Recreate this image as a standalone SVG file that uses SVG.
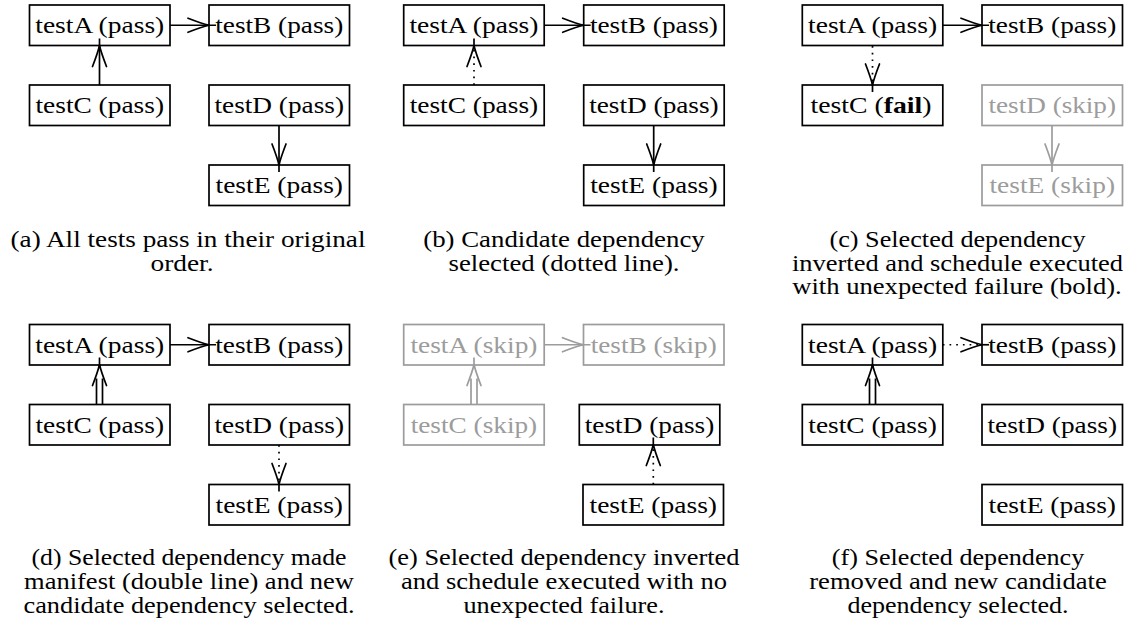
<svg xmlns="http://www.w3.org/2000/svg" width="1129" height="631" viewBox="0 0 1129 631">
<style>
.box{fill:#fff;stroke:#000;stroke-width:1.7}
.sk .box{stroke:#9c9c9c}
.e{fill:none;stroke:#000;stroke-width:1.7}
.eg{fill:none;stroke:#9c9c9c;stroke-width:1.7}
.dot{stroke-dasharray:1.7 5}
.ah{marker-end:url(#ah)}
.ahg{marker-end:url(#ahg)}
</style>
<defs>
<marker id="ah" viewBox="-24 -9 34 18" markerWidth="34" markerHeight="18" refX="7" refY="0" orient="auto" markerUnits="userSpaceOnUse">
<path d="M-21,-7 Q-7,-1.6 0,0 Q-7,1.6 -21,7" fill="none" stroke="#000" stroke-width="1.7" stroke-linecap="round"/>
</marker>
<marker id="ahg" viewBox="-24 -9 34 18" markerWidth="34" markerHeight="18" refX="7" refY="0" orient="auto" markerUnits="userSpaceOnUse">
<path d="M-21,-7 Q-7,-1.6 0,0 Q-7,1.6 -21,7" fill="none" stroke="#9c9c9c" stroke-width="1.7" stroke-linecap="round"/>
</marker>
</defs>

<!-- Panel (a) -->
<g id="a-testA"><rect class="box" x="29.5" y="5" width="140.5" height="40.5"/><text font-family="Liberation Serif" font-size="24" text-anchor="middle" x="99.75" y="33" textLength="129" lengthAdjust="spacingAndGlyphs">testA (pass)</text></g>
<g id="a-testB"><rect class="box" x="209" y="5" width="140.5" height="40.5"/><text font-family="Liberation Serif" font-size="24" text-anchor="middle" x="279.25" y="33" textLength="128" lengthAdjust="spacingAndGlyphs">testB (pass)</text></g>
<g id="a-testC"><rect class="box" x="29.5" y="85" width="140.5" height="40.5"/><text font-family="Liberation Serif" font-size="24" text-anchor="middle" x="99.75" y="113" textLength="128.5" lengthAdjust="spacingAndGlyphs">testC (pass)</text></g>
<g id="a-testD"><rect class="box" x="209" y="85" width="140.5" height="40.5"/><text font-family="Liberation Serif" font-size="24" text-anchor="middle" x="279.25" y="113" textLength="129.5" lengthAdjust="spacingAndGlyphs">testD (pass)</text></g>
<g id="a-testE"><rect class="box" x="209" y="165" width="140.5" height="40.5"/><text font-family="Liberation Serif" font-size="24" text-anchor="middle" x="279.25" y="193" textLength="127.5" lengthAdjust="spacingAndGlyphs">testE (pass)</text></g>

<!-- Panel (b) -->
<g id="b-testA"><rect class="box" x="403.7" y="5" width="140.5" height="40.5"/><text font-family="Liberation Serif" font-size="24" text-anchor="middle" x="473.95" y="33" textLength="129" lengthAdjust="spacingAndGlyphs">testA (pass)</text></g>
<g id="b-testB"><rect class="box" x="583.7" y="5" width="140.5" height="40.5"/><text font-family="Liberation Serif" font-size="24" text-anchor="middle" x="653.95" y="33" textLength="128" lengthAdjust="spacingAndGlyphs">testB (pass)</text></g>
<g id="b-testC"><rect class="box" x="403.7" y="85" width="140.5" height="40.5"/><text font-family="Liberation Serif" font-size="24" text-anchor="middle" x="473.95" y="113" textLength="128.5" lengthAdjust="spacingAndGlyphs">testC (pass)</text></g>
<g id="b-testD"><rect class="box" x="583.7" y="85" width="140.5" height="40.5"/><text font-family="Liberation Serif" font-size="24" text-anchor="middle" x="653.95" y="113" textLength="129.5" lengthAdjust="spacingAndGlyphs">testD (pass)</text></g>
<g id="b-testE"><rect class="box" x="583.7" y="165" width="140.5" height="40.5"/><text font-family="Liberation Serif" font-size="24" text-anchor="middle" x="653.95" y="193" textLength="127.5" lengthAdjust="spacingAndGlyphs">testE (pass)</text></g>

<!-- Panel (c) -->
<g id="c-testA"><rect class="box" x="802.3" y="5" width="140.5" height="40.5"/><text font-family="Liberation Serif" font-size="24" text-anchor="middle" x="872.55" y="33" textLength="129" lengthAdjust="spacingAndGlyphs">testA (pass)</text></g>
<g id="c-testB"><rect class="box" x="982" y="5" width="140.5" height="40.5"/><text font-family="Liberation Serif" font-size="24" text-anchor="middle" x="1052.25" y="33" textLength="128" lengthAdjust="spacingAndGlyphs">testB (pass)</text></g>
<g id="c-testC"><rect class="box" x="802.3" y="85" width="140.5" height="40.5"/><text font-family="Liberation Serif" font-size="24" text-anchor="middle" x="871" y="113" textLength="121" lengthAdjust="spacingAndGlyphs">testC (<tspan font-weight="bold">fail</tspan>)</text></g>
<g id="c-testD" class="sk"><rect class="box" x="982" y="85" width="140.5" height="40.5"/><text font-family="Liberation Serif" font-size="24" text-anchor="middle" fill="#9c9c9c" x="1052.25" y="113" textLength="127.5" lengthAdjust="spacingAndGlyphs">testD (skip)</text></g>
<g id="c-testE" class="sk"><rect class="box" x="982" y="165" width="140.5" height="40.5"/><text font-family="Liberation Serif" font-size="24" text-anchor="middle" fill="#9c9c9c" x="1052.25" y="193" textLength="125.5" lengthAdjust="spacingAndGlyphs">testE (skip)</text></g>

<!-- Panel (d) -->
<g id="d-testA"><rect class="box" x="29.5" y="324.5" width="140.5" height="40.5"/><text font-family="Liberation Serif" font-size="24" text-anchor="middle" x="99.75" y="352.5" textLength="129" lengthAdjust="spacingAndGlyphs">testA (pass)</text></g>
<g id="d-testB"><rect class="box" x="209" y="324.5" width="140.5" height="40.5"/><text font-family="Liberation Serif" font-size="24" text-anchor="middle" x="279.25" y="352.5" textLength="128" lengthAdjust="spacingAndGlyphs">testB (pass)</text></g>
<g id="d-testC"><rect class="box" x="29.5" y="404.5" width="140.5" height="40.5"/><text font-family="Liberation Serif" font-size="24" text-anchor="middle" x="99.75" y="432.5" textLength="128.5" lengthAdjust="spacingAndGlyphs">testC (pass)</text></g>
<g id="d-testD"><rect class="box" x="209" y="404.5" width="140.5" height="40.5"/><text font-family="Liberation Serif" font-size="24" text-anchor="middle" x="279.25" y="432.5" textLength="129.5" lengthAdjust="spacingAndGlyphs">testD (pass)</text></g>
<g id="d-testE"><rect class="box" x="209" y="484.5" width="140.5" height="40.5"/><text font-family="Liberation Serif" font-size="24" text-anchor="middle" x="279.25" y="512.5" textLength="127.5" lengthAdjust="spacingAndGlyphs">testE (pass)</text></g>

<!-- Panel (e) -->
<g id="e-testA" class="sk"><rect class="box" x="403.7" y="324.5" width="140.5" height="40.5"/><text font-family="Liberation Serif" font-size="24" text-anchor="middle" fill="#9c9c9c" x="473.95" y="352.5" textLength="127" lengthAdjust="spacingAndGlyphs">testA (skip)</text></g>
<g id="e-testB" class="sk"><rect class="box" x="583.5" y="324.5" width="140.5" height="40.5"/><text font-family="Liberation Serif" font-size="24" text-anchor="middle" fill="#9c9c9c" x="653.75" y="352.5" textLength="126" lengthAdjust="spacingAndGlyphs">testB (skip)</text></g>
<g id="e-testC" class="sk"><rect class="box" x="403.7" y="404.5" width="140.5" height="40.5"/><text font-family="Liberation Serif" font-size="24" text-anchor="middle" fill="#9c9c9c" x="473.95" y="432.5" textLength="126.5" lengthAdjust="spacingAndGlyphs">testC (skip)</text></g>
<g id="e-testD"><rect class="box" x="579.3" y="404.5" width="140.5" height="40.5"/><text font-family="Liberation Serif" font-size="24" text-anchor="middle" x="649.55" y="432.5" textLength="129.5" lengthAdjust="spacingAndGlyphs">testD (pass)</text></g>
<g id="e-testE"><rect class="box" x="583" y="484.5" width="140.5" height="40.5"/><text font-family="Liberation Serif" font-size="24" text-anchor="middle" x="653.25" y="512.5" textLength="127.5" lengthAdjust="spacingAndGlyphs">testE (pass)</text></g>

<!-- Panel (f) -->
<g id="f-testA"><rect class="box" x="802.3" y="324.5" width="140.5" height="40.5"/><text font-family="Liberation Serif" font-size="24" text-anchor="middle" x="872.55" y="352.5" textLength="129" lengthAdjust="spacingAndGlyphs">testA (pass)</text></g>
<g id="f-testB"><rect class="box" x="982" y="324.5" width="140.5" height="40.5"/><text font-family="Liberation Serif" font-size="24" text-anchor="middle" x="1052.25" y="352.5" textLength="128" lengthAdjust="spacingAndGlyphs">testB (pass)</text></g>
<g id="f-testC"><rect class="box" x="802.3" y="404.5" width="140.5" height="40.5"/><text font-family="Liberation Serif" font-size="24" text-anchor="middle" x="872.55" y="432.5" textLength="128.5" lengthAdjust="spacingAndGlyphs">testC (pass)</text></g>
<g id="f-testD"><rect class="box" x="982" y="404.5" width="140.5" height="40.5"/><text font-family="Liberation Serif" font-size="24" text-anchor="middle" x="1052.25" y="432.5" textLength="129.5" lengthAdjust="spacingAndGlyphs">testD (pass)</text></g>
<g id="f-testE"><rect class="box" x="982" y="484.5" width="140.5" height="40.5"/><text font-family="Liberation Serif" font-size="24" text-anchor="middle" x="1052.25" y="512.5" textLength="127.5" lengthAdjust="spacingAndGlyphs">testE (pass)</text></g>

<g id="connectors">
<path class="e ah" d="M170,25.25 H216"/>
<path class="e ah" d="M99.5,85 V38.5"/>
<path class="e ah" d="M279,125.5 V172"/>
<path class="e ah" d="M544.2,25.25 H590.7"/>
<path class="e dot" d="M474,85 V46"/>
<path class="e ah" d="M474,47 V38.5"/>
<path class="e ah" d="M653.7,125.5 V172"/>
<path class="e ah" d="M942.8,25.25 H989"/>
<path class="e dot" d="M872.5,46 V85"/>
<path class="e ah" d="M872.5,83.5 V92"/>
<path class="eg ahg" d="M1052,125.5 V172"/>
<path class="e ah" d="M170,344.75 H216"/>
<path class="e" d="M96.5,404.5 V378.5 M102.5,404.5 V378.5"/>
<path class="e ah" d="M99.5,367 V357.5"/>
<path class="e dot" d="M279,445 V484.5"/>
<path class="e ah" d="M279,483 V491.5"/>
<path class="eg ahg" d="M544.2,344.75 H590.5"/>
<path class="eg" d="M471,404.5 V378.5 M477,404.5 V378.5"/>
<path class="eg ahg" d="M474,367 V357.5"/>
<path class="e dot" d="M653.3,484.5 V445"/>
<path class="e ah" d="M653.3,446 V437.5"/>
<path class="e dot" d="M942.8,344.75 H982"/>
<path class="e ah" d="M980.5,344.75 H989"/>
<path class="e" d="M869.5,404.5 V378.5 M875.5,404.5 V378.5"/>
<path class="e ah" d="M872.5,367 V357.5"/>
</g>

<g id="captions" font-family="Liberation Serif" font-size="24" text-anchor="middle">
<text x="188" y="247" textLength="355" lengthAdjust="spacingAndGlyphs">(a) All tests pass in their original</text>
<text x="182" y="270.5" textLength="63" lengthAdjust="spacingAndGlyphs">order.</text>
<text x="564" y="247" textLength="281.5" lengthAdjust="spacingAndGlyphs">(b) Candidate dependency</text>
<text x="564" y="270.5" textLength="231" lengthAdjust="spacingAndGlyphs">selected (dotted line).</text>
<text x="957.5" y="247" textLength="256" lengthAdjust="spacingAndGlyphs">(c) Selected dependency</text>
<text x="957.5" y="270.5" textLength="331" lengthAdjust="spacingAndGlyphs">inverted and schedule executed</text>
<text x="957" y="294" textLength="329.5" lengthAdjust="spacingAndGlyphs">with unexpected failure (bold).</text>
<text x="189" y="565" textLength="315" lengthAdjust="spacingAndGlyphs">(d) Selected dependency made</text>
<text x="189" y="589" textLength="330" lengthAdjust="spacingAndGlyphs">manifest (double line) and new</text>
<text x="189" y="613" textLength="331" lengthAdjust="spacingAndGlyphs">candidate dependency selected.</text>
<text x="564" y="565" textLength="351" lengthAdjust="spacingAndGlyphs">(e) Selected dependency inverted</text>
<text x="564" y="589" textLength="326" lengthAdjust="spacingAndGlyphs">and schedule executed with no</text>
<text x="564" y="613" textLength="201" lengthAdjust="spacingAndGlyphs">unexpected failure.</text>
<text x="958" y="565" textLength="252.5" lengthAdjust="spacingAndGlyphs">(f) Selected dependency</text>
<text x="958" y="589" textLength="297.5" lengthAdjust="spacingAndGlyphs">removed and new candidate</text>
<text x="958" y="613" textLength="221" lengthAdjust="spacingAndGlyphs">dependency selected.</text>
</g>
</svg>
